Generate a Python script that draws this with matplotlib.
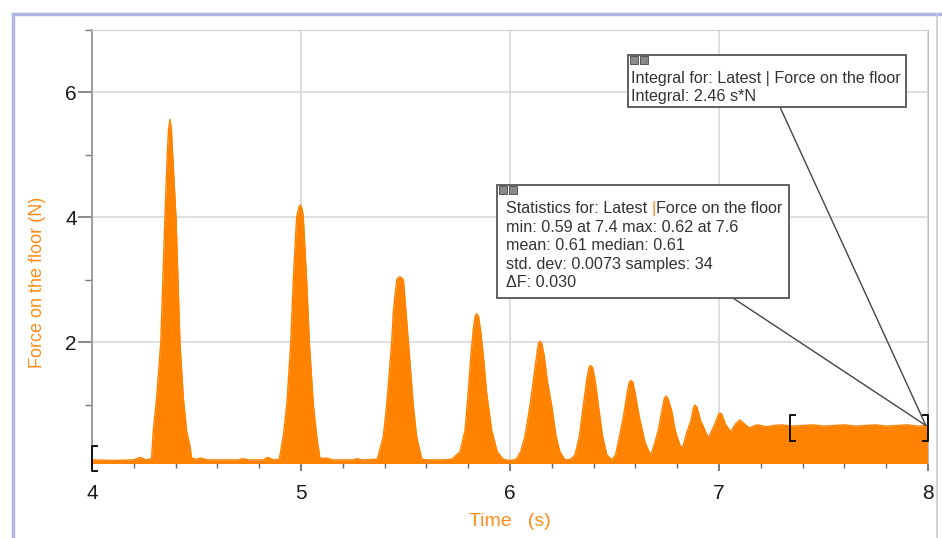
import matplotlib
matplotlib.use("Agg")
import matplotlib.pyplot as plt
from matplotlib.ticker import MultipleLocator, FixedLocator
from matplotlib.patches import Rectangle, ConnectionPatch
from matplotlib.lines import Line2D

plt.rcParams['font.family'] = ['Liberation Sans', 'DejaVu Sans']

# force sensor trace
time_s = [4.00, 4.10, 4.20, 4.23, 4.26, 4.285, 4.293, 4.309, 4.329, 4.349, 4.360, 4.366, 4.373,
          4.380, 4.386, 4.402, 4.421, 4.437, 4.453, 4.468, 4.477, 4.50, 4.52, 4.55, 4.70, 4.72,
          4.75, 4.82, 4.84, 4.87, 4.896, 4.915, 4.932, 4.951, 4.963, 4.979, 4.99, 4.998,
          5.006, 5.011, 5.027, 5.04, 5.059, 5.075, 5.091, 5.123, 5.15, 5.25, 5.27, 5.29, 5.365,
          5.394, 5.41, 5.434, 5.442, 5.458, 5.466, 5.474, 5.482, 5.49, 5.502, 5.514, 5.537,
          5.553, 5.577, 5.60, 5.68, 5.721, 5.761, 5.785, 5.80, 5.813, 5.824, 5.832, 5.84,
          5.849, 5.859, 5.872, 5.888, 5.912, 5.939, 5.968, 6.00, 6.03, 6.051, 6.072, 6.096,
          6.112, 6.128, 6.136, 6.144, 6.152, 6.163, 6.178, 6.199, 6.22, 6.239, 6.263, 6.29,
          6.311, 6.332, 6.351, 6.367, 6.378, 6.386, 6.395, 6.407, 6.4225, 6.443, 6.463, 6.487,
          6.505, 6.518, 6.542, 6.561, 6.570, 6.578, 6.587, 6.598, 6.619, 6.646, 6.673, 6.689,
          6.71, 6.726, 6.738, 6.746, 6.756, 6.774, 6.79, 6.813, 6.826, 6.845, 6.866, 6.878,
          6.885, 6.895, 6.912, 6.949, 6.981, 6.998, 7.005, 7.014, 7.029, 7.056, 7.08, 7.10,
          7.12, 7.145, 7.18, 7.20, 7.23, 7.26, 7.30, 7.35, 7.40, 7.45, 7.50, 7.55, 7.60,
          7.65, 7.70, 7.75, 7.80, 7.85, 7.90, 7.95, 8.00]
force_n = [0.12, 0.11, 0.12, 0.16, 0.12, 0.14, 0.58, 1.11, 2.0, 4.0, 5.0, 5.4, 5.57,
           5.4, 5.0, 4.0, 2.0, 1.11, 0.58, 0.35, 0.15, 0.13, 0.15, 0.12, 0.12, 0.14,
           0.12, 0.12, 0.16, 0.12, 0.13, 0.5, 1.0, 2.0, 3.0, 4.0, 4.17, 4.2,
           4.13, 4.0, 3.0, 2.0, 1.0, 0.5, 0.14, 0.15, 0.12, 0.12, 0.14, 0.12, 0.13,
           0.5, 1.0, 2.0, 2.5, 3.0, 3.04, 3.05, 3.03, 3.0, 2.5, 2.0, 1.0,
           0.5, 0.14, 0.12, 0.12, 0.13, 0.25, 0.6, 1.2, 1.8, 2.2, 2.4, 2.46,
           2.42, 2.2, 1.8, 1.2, 0.6, 0.25, 0.13, 0.11, 0.13, 0.25, 0.5, 1.0,
           1.4, 1.8, 1.98, 2.02, 1.98, 1.8, 1.4, 1.0, 0.5, 0.25, 0.12, 0.13,
           0.2, 0.5, 1.0, 1.4, 1.6, 1.63, 1.6, 1.4, 1.0, 0.5, 0.2, 0.12,
           0.2, 0.4, 0.8, 1.2, 1.36, 1.39, 1.37, 1.2, 0.8, 0.4, 0.19, 0.35,
           0.6, 0.9, 1.1, 1.14, 1.1, 0.9, 0.6, 0.35, 0.32, 0.55, 0.75, 0.96,
           1.0, 0.96, 0.75, 0.47, 0.7, 0.85, 0.87, 0.85, 0.7, 0.57, 0.7, 0.76,
           0.7, 0.63, 0.68, 0.67, 0.65, 0.67, 0.68, 0.66, 0.67, 0.68, 0.66, 0.67, 0.68,
           0.66, 0.67, 0.68, 0.66, 0.67, 0.68, 0.66, 0.67]

x_ticks = [4, 5, 6, 7, 8]
y_ticks = [2, 4, 6]
y_minor = [1, 3, 5, 7]

integral_lines = ["Integral for: Latest | Force on the floor", "Integral: 2.46 s*N"]
stats_lines = ["min: 0.59 at 7.4 max: 0.62 at 7.6", "mean: 0.61 median: 0.61",
               "std. dev: 0.0073 samples: 34", "\u0394F: 0.030"]

orange = '#ff8200'
W, H = 942, 538

def fx(px):
    return px / W

def fy(py):
    return 1 - py / H

fig = plt.figure(figsize=(9.42, 5.38), dpi=100)
ax = fig.add_axes([fx(92), fy(463), fx(928) - fx(92), fy(30) - fy(463)])

ax.fill_between(time_s, 0, force_n, color=orange, lw=0, zorder=2)
ax.plot(time_s, force_n, color=orange, lw=1.0, zorder=2)

ax.set_xlim(4, 8)
ax.set_ylim(0.07, 7)
ax.set_xticks(x_ticks)
ax.xaxis.set_minor_locator(MultipleLocator(0.2))
ax.set_yticks(y_ticks)
ax.yaxis.set_minor_locator(FixedLocator(y_minor))
ax.grid(True, which='major', color='#d9d9d9', lw=1.2, zorder=0)
ax.tick_params(axis='x', which='major', length=6, width=1.2, color='#666666', pad=9,
               labelsize=15, labelcolor='#1a1a1a')
ax.tick_params(axis='x', which='minor', length=3.5, width=1, color='#666666')
ax.tick_params(axis='y', which='major', length=10, width=1.2, color='#777777', pad=1,
               labelsize=15, labelcolor='#1a1a1a')
ax.tick_params(axis='y', which='minor', length=5, width=1, color='#777777')
ax.spines['bottom'].set_visible(False)
ax.spines['left'].set_color('#999999')
ax.spines['left'].set_linewidth(1.3)
ax.spines['top'].set_color('#d0d0d0')
ax.spines['right'].set_color('#bbbbbb')

fig.text(fx(510), fy(521), "Time   (s)", color='#ff8c1a', fontsize=14, ha='center', va='center')
fig.text(fx(38), fy(282), "Force on the floor (N)", color='#ff8c1a', fontsize=13,
         rotation=90, ha='center', va='center')

# selection brackets
def bracket(t0, lo, hi, direction):
    d = 0.024 * direction
    ax.plot([t0 + d, t0, t0, t0 + d], [hi, hi, lo, lo], color='#111111', lw=1.4,
            clip_on=False, zorder=5)

bracket(4.0, -0.06, 0.34, 1)
bracket(7.34, 0.42, 0.84, 1)
bracket(8.0, 0.42, 0.84, -1)

# callout boxes
def box(x0, y0, x1, y1):
    fig.add_artist(Rectangle((fx(x0), fy(y1)), fx(x1) - fx(x0), fy(y0) - fy(y1),
                             transform=fig.transFigure, facecolor='white',
                             edgecolor='#555555', lw=1.3, zorder=10))
    for ix in (x0 + 2, x0 + 12):
        fig.add_artist(Rectangle((fx(ix), fy(y0 + 9)), fx(8), 8 / H,
                                 transform=fig.transFigure, facecolor='#8a8a8a',
                                 edgecolor='#444444', lw=0.6, zorder=11))

for x_start, y_start in [(733, 298), (780, 107)]:
    con = ConnectionPatch(xyA=(fx(x_start), fy(y_start)), coordsA='figure fraction',
                          xyB=(7.99, 0.67), coordsB='data', axesB=ax,
                          color='#444444', lw=1.0, zorder=9)
    fig.add_artist(con)

box(628, 55, 906, 107)
box(497, 185, 789, 298)

fs = 11.6
txt = dict(fontsize=fs, color='#333333', va='baseline', ha='left', zorder=12)
fig.text(fx(631), fy(83), integral_lines[0], **txt)
fig.text(fx(631), fy(101), integral_lines[1], **txt)

t1 = fig.text(fx(506), fy(213), "Statistics for: Latest ", **txt)
t2 = fig.text(0, 0, "|", fontsize=fs, color=orange, va='baseline', ha='left', zorder=12)
fig.canvas.draw()
bb = t1.get_window_extent()
t2.set_position((bb.x1 / W, fy(213)))
bb2 = t2.get_window_extent()
fig.text(bb2.x1 / W, fy(213), "Force on the floor", **txt)
for i, s in enumerate(stats_lines):
    fig.text(fx(506), fy([232, 250, 269, 287][i]), s, **txt)

# window frame
fig.add_artist(Line2D([fx(13), 1], [fy(14), fy(14)], color='#b4b4e6', lw=2.5,
                      transform=fig.transFigure))
fig.add_artist(Line2D([fx(13), fx(13)], [fy(14), 0], color='#b4b4e6', lw=2.5,
                      transform=fig.transFigure))
fig.add_artist(Line2D([fx(937), fx(937)], [fy(14), 0], color='#cccccc', lw=1.2,
                      transform=fig.transFigure))

fig.savefig("out.png", dpi=100)
